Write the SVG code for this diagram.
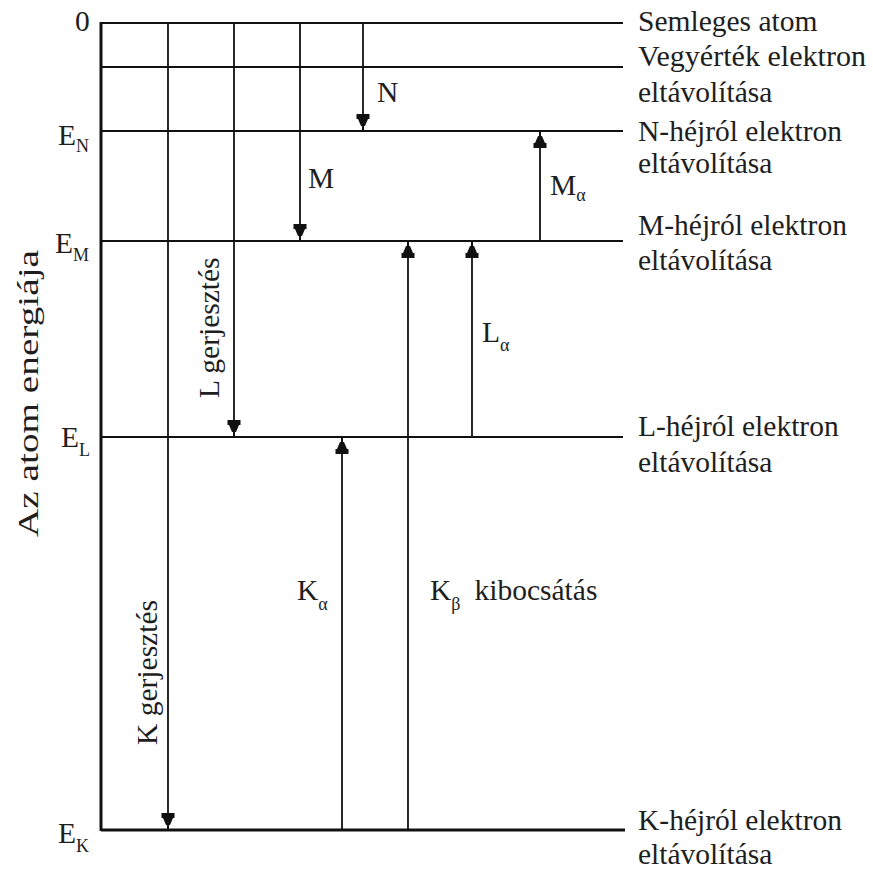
<svg xmlns="http://www.w3.org/2000/svg" width="873" height="869" viewBox="0 0 873 869">
<style>
text{font-family:"Liberation Serif","Times New Roman",serif;font-size:29.5px;fill:#1e1e1e}
.sub{font-size:18px}
.lvl{stroke:#111;stroke-width:2;fill:none}
.tr{stroke:#111;stroke-width:1.8;fill:none;marker-end:url(#ah)}
</style>
<defs>
<marker id="ah" markerUnits="userSpaceOnUse" orient="auto" markerWidth="20" markerHeight="16" refX="17" refY="0" viewBox="0 -8 18 16">
<path d="M0,-6.5 L5,-6.5 L5,-5 L12,-2 L12,-1 L17,-1 L17,1 L12,1 L12,2 L5,5 L5,6.5 L0,6.5 Z" fill="#111"/>
</marker>
</defs>
<rect width="873" height="869" fill="#fff"/>
<g id="axis">
<line x1="101" y1="22" x2="101" y2="831" stroke="#111" stroke-width="3"/>
<text transform="translate(38,537) rotate(-90)" textLength="287" lengthAdjust="spacingAndGlyphs">Az atom energiája</text>
</g>
<g id="level-0">
<line class="lvl" x1="101" y1="23" x2="623" y2="23"/>
<text x="75" y="31">0</text>
<text x="638" y="31">Semleges atom</text>
</g>
<g id="level-valence">
<line class="lvl" x1="101" y1="67" x2="623" y2="67"/>
<text x="638" y="66" textLength="228" lengthAdjust="spacingAndGlyphs">Vegyérték elektron</text>
<text x="638" y="102">eltávolítása</text>
</g>
<g id="level-N">
<line class="lvl" x1="101" y1="131" x2="623" y2="131"/>
<text x="58" y="145">E<tspan class="sub" dy="7">N</tspan></text>
<text x="638" y="141">N-héjról elektron</text>
<text x="638" y="173">eltávolítása</text>
</g>
<g id="level-M">
<line class="lvl" x1="101" y1="241" x2="623" y2="241"/>
<text x="55" y="253">E<tspan class="sub" dy="8">M</tspan></text>
<text x="638" y="235">M-héjról elektron</text>
<text x="638" y="270">eltávolítása</text>
</g>
<g id="level-L">
<line class="lvl" x1="101" y1="437" x2="623" y2="437"/>
<text x="61" y="447">E<tspan class="sub" dy="9">L</tspan></text>
<text x="638" y="436">L-héjról elektron</text>
<text x="638" y="472">eltávolítása</text>
</g>
<g id="level-K">
<line x1="101" y1="830" x2="625" y2="830" stroke="#111" stroke-width="3"/>
<text x="58" y="843">E<tspan class="sub" dy="9">K</tspan></text>
<text x="638" y="830">K-héjról elektron</text>
<text x="638" y="864">eltávolítása</text>
</g>
<g id="connectors">
<line class="tr" x1="363" y1="23" x2="363" y2="131"/>
<line class="tr" x1="300" y1="23" x2="300" y2="241"/>
<line class="tr" x1="234" y1="23" x2="234" y2="437"/>
<line class="tr" x1="168" y1="23" x2="168" y2="830"/>
<line class="tr" x1="540" y1="241" x2="540" y2="131"/>
<line class="tr" x1="472" y1="437" x2="472" y2="241"/>
<line class="tr" x1="408" y1="830" x2="408" y2="241"/>
<line class="tr" x1="342" y1="830" x2="342" y2="437"/>
</g>
<g id="labels">
<text x="377" y="102">N</text>
<text x="308" y="188">M</text>
<text x="550" y="195">M<tspan class="sub" dy="6">α</tspan></text>
<text x="482" y="342">L<tspan class="sub" dy="9">α</tspan></text>
<text x="297" y="600">K<tspan class="sub" dy="10">α</tspan></text>
<text x="430" y="600">K<tspan class="sub" dy="10">β</tspan><tspan dy="-10" dx="14">kibocsátás</tspan></text>
<text transform="translate(219,398) rotate(-90)">L gerjesztés</text>
<text transform="translate(157,745) rotate(-90)">K gerjesztés</text>
</g>
</svg>
